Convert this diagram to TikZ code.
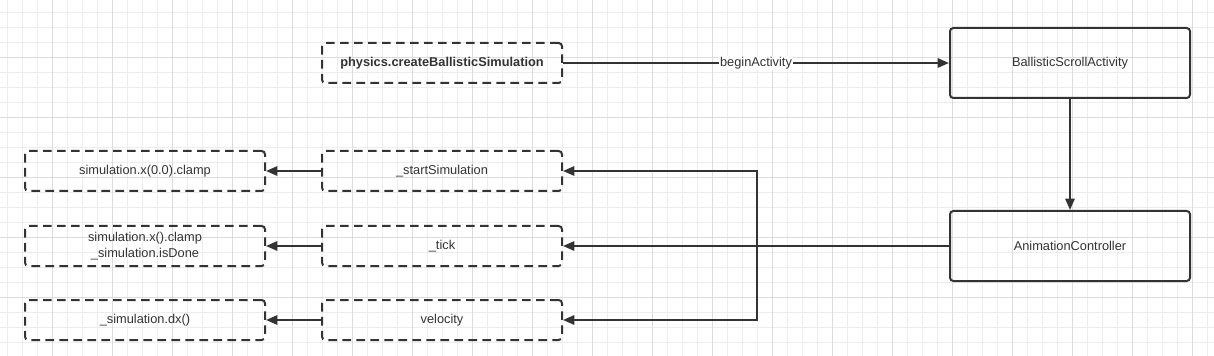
\documentclass[tikz,border=0pt]{standalone}
\usepackage{fontspec}
\setmainfont{Liberation Sans}
\usepackage{xcolor}
\usetikzlibrary{arrows.meta,calc,positioning}

\definecolor{ink}{HTML}{333333}
\definecolor{gridminor}{HTML}{EDEDED}
\definecolor{gridmajor}{HTML}{DCDCDC}

\begin{document}
\begin{tikzpicture}[x=0.75pt, y=-0.75pt,
    box/.style={draw=ink, line width=1.5pt, rounded corners=2.5pt,
        minimum width=180pt, minimum height=30pt, text=ink,
        font=\fontsize{9.6}{11.5}\selectfont, align=center, inner sep=1pt},
    dashbox/.style={box, dash pattern=on 6.5pt off 4pt},
    bigbox/.style={box, minimum height=52.5pt},
    arr/.style={draw=ink, line width=1.5pt,
        -{Triangle[length=8.5pt,width=7pt]}}]

    % Background
    \fill[white] (0,0) rectangle (1214,356);
    \useasboundingbox (0,0) rectangle (1214,356);
    \begin{scope}
        \clip (0,0) rectangle (1214,356);
        \foreach \x in {7.3,22.3,...,1214} {
            \draw[gridminor, line width=0.75pt] (\x,0) -- (\x,356);
        }
        \foreach \y in {12.3,27.3,...,356} {
            \draw[gridminor, line width=0.75pt] (0,\y) -- (1214,\y);
        }
        \foreach \x in {52.3,112.3,...,1214} {
            \draw[gridmajor, line width=0.75pt] (\x,0) -- (\x,356);
        }
        \foreach \y in {57.3,117.3,...,356} {
            \draw[gridmajor, line width=0.75pt] (0,\y) -- (1214,\y);
        }
    \end{scope}

    % Top row
    \node[dashbox, font=\fontsize{9.6}{11.5}\selectfont\bfseries] (phys) at (442,63)
        {physics.createBallisticSimulation};
    \node[bigbox] (bsa) at (1070,63) {BallisticScrollActivity};
    \node[bigbox] (ac) at (1070,246) {AnimationController};

    % Middle column
    \node[dashbox] (start) at (442,171) {\_startSimulation};
    \node[dashbox] (tick) at (442,246) {\_tick};
    \node[dashbox] (vel) at (442,320) {velocity};

    % Left column
    \node[dashbox] (clampzero) at (145,171) {simulation.x(0.0).clamp};
    \node[dashbox] (clampdone) at (145,246)
        {simulation.x().clamp\\\_simulation.isDone};
    \node[dashbox] (dx) at (145,320) {\_simulation.dx()};

    \coordinate (junc) at (757,246);

    % Connectors
    \draw[arr] (phys) -- node[fill=white, text=ink, inner sep=0.5pt,
        font=\fontsize{9.6}{11.5}\selectfont] {beginActivity} (bsa);
    \draw[arr] (bsa) -- (ac);
    \draw[arr] (ac) -- (tick);
    \draw[arr] (junc) |- (start);
    \draw[arr] (junc) |- (vel);

    \draw[arr] (start) -- (clampzero);
    \draw[arr] (tick) -- (clampdone);
    \draw[arr] (vel) -- (dx);

\end{tikzpicture}
\end{document}
